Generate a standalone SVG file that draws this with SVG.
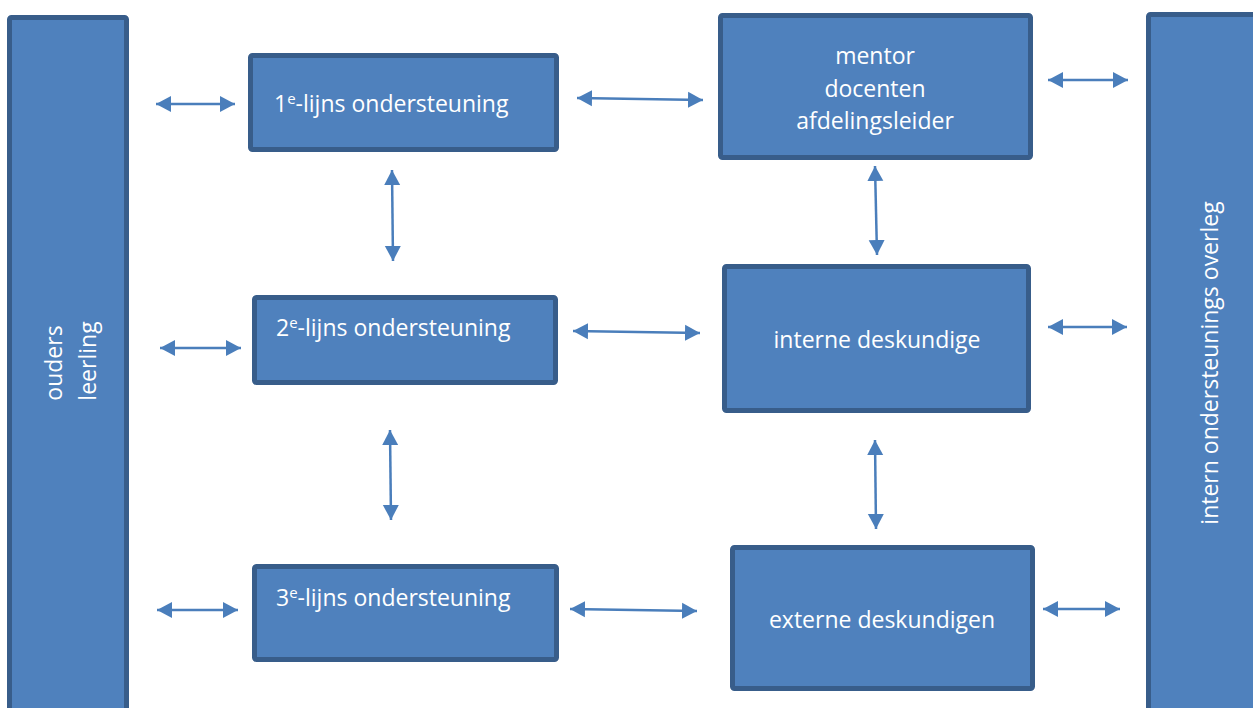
<svg xmlns="http://www.w3.org/2000/svg" width="1253" height="708" viewBox="0 0 1253 708">
<style>
.box{fill:#4F81BD;stroke:#385D8A;stroke-width:5;}
.t{font-family:"Open Sans","Liberation Sans",sans-serif;font-size:23px;fill:#FFFFFF;}
.c{stroke:#4A7EBB;stroke-width:2.5;fill:none;marker-start:url(#ah);marker-end:url(#ah);}
</style>
<defs>
<marker id="ah" markerUnits="userSpaceOnUse" markerWidth="16" markerHeight="18" refX="15" refY="8" orient="auto-start-reverse" viewBox="0 0 16 16">
<path d="M0,0 L15,8 L0,16 Z" fill="#4A7EBB"/>
</marker>
</defs>
<rect width="1253" height="708" fill="#FFFFFF"/>
<g id="connectors">
<line class="c" x1="156" y1="104" x2="235" y2="104"/>
<line class="c" x1="160" y1="348" x2="241" y2="348"/>
<line class="c" x1="157" y1="610" x2="238" y2="610"/>
<line class="c" x1="577" y1="98" x2="703" y2="100"/>
<line class="c" x1="573" y1="331" x2="700" y2="333"/>
<line class="c" x1="570" y1="609" x2="697" y2="611"/>
<line class="c" x1="1048" y1="80" x2="1128" y2="80"/>
<line class="c" x1="1048" y1="327" x2="1127" y2="327"/>
<line class="c" x1="1043" y1="609" x2="1120" y2="609"/>
<line class="c" x1="392" y1="170" x2="393" y2="261"/>
<line class="c" x1="390" y1="430" x2="391" y2="520"/>
<line class="c" x1="875" y1="166" x2="877" y2="255"/>
<line class="c" x1="875" y1="440" x2="876" y2="529"/>
</g>
<g id="ouders">
<rect class="box" x="9.5" y="17.5" width="117" height="700" rx="2"/>
<text class="t" transform="translate(62,363) rotate(-90)" text-anchor="middle">ouders</text>
<text class="t" transform="translate(96,361) rotate(-90)" text-anchor="middle">leerling</text>
</g>
<g id="lijn1">
<rect class="box" x="250.5" y="55.5" width="306" height="94" rx="2"/>
<text class="t" x="274" y="112">1<tspan font-size="15" dy="-8">e</tspan><tspan dy="8">-lijns ondersteuning</tspan></text>
</g>
<g id="lijn2">
<rect class="box" x="254.5" y="297.5" width="301" height="85" rx="2"/>
<text class="t" x="276" y="336">2<tspan font-size="15" dy="-8">e</tspan><tspan dy="8">-lijns ondersteuning</tspan></text>
</g>
<g id="lijn3">
<rect class="box" x="254.5" y="566.5" width="302" height="93" rx="2"/>
<text class="t" x="276" y="606">3<tspan font-size="15" dy="-8">e</tspan><tspan dy="8">-lijns ondersteuning</tspan></text>
</g>
<g id="mentor">
<rect class="box" x="720.5" y="15.5" width="310" height="142" rx="2"/>
<text class="t" x="875" y="64" text-anchor="middle">mentor</text>
<text class="t" x="875" y="97" text-anchor="middle">docenten</text>
<text class="t" x="875" y="129" text-anchor="middle">afdelingsleider</text>
</g>
<g id="intern">
<rect class="box" x="724.5" y="266.5" width="304" height="144" rx="2"/>
<text class="t" x="877" y="348" text-anchor="middle">interne deskundige</text>
</g>
<g id="extern">
<rect class="box" x="732.5" y="547.5" width="300" height="141" rx="2"/>
<text class="t" x="882" y="628" text-anchor="middle">externe deskundigen</text>
</g>
<g id="overleg">
<rect class="box" x="1148.5" y="14.5" width="120" height="710" rx="2"/>
<text class="t" transform="translate(1218,363) rotate(-90)" text-anchor="middle">intern ondersteunings overleg</text>
</g>
</svg>
